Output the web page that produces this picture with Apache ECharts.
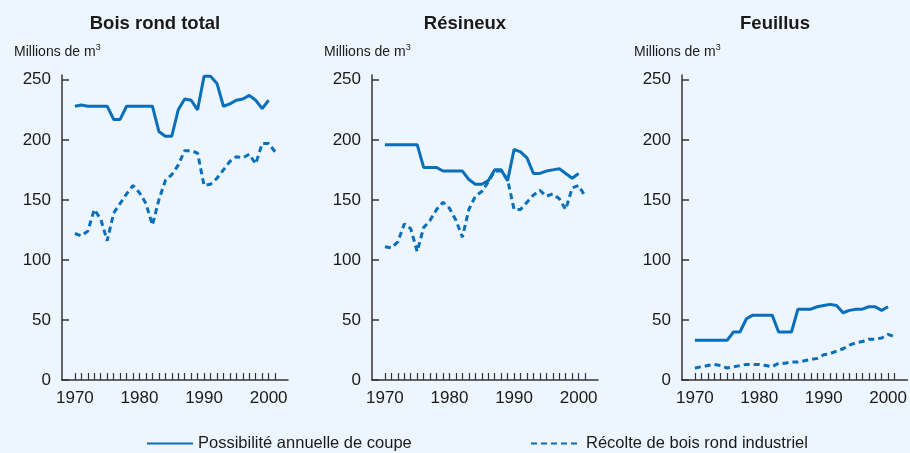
<!DOCTYPE html>
<html>
<head>
<meta charset="utf-8">
<title>Possibilité annuelle de coupe et récolte</title>
<script src="https://cdn.jsdelivr.net/npm/echarts@6.0.0/dist/echarts.min.js"></script>
<style>
    html, body { margin: 0; padding: 0; background: #edf5fe; }
    #chart { width: 910px; height: 453px; }
</style>
</head>
<body>
<div id="chart"></div>
<script>
// Data (millions de m3)
const years = [1970, 1971, 1972, 1973, 1974, 1975, 1976, 1977, 1978, 1979,
    1980, 1981, 1982, 1983, 1984, 1985, 1986, 1987, 1988, 1989,
    1990, 1991, 1992, 1993, 1994, 1995, 1996, 1997, 1998, 1999,
    2000, 2001];

const panelTitles = ['Bois rond total', 'Résineux', 'Feuillus'];
const seriesNames = ['Possibilité annuelle de coupe', 'Récolte de bois rond industriel'];

// Possibilité annuelle de coupe (1970-2000)
const coupeTotal = [228, 229, 228, 228, 228, 228, 217, 217, 228, 228,
    228, 228, 228, 207, 203, 203, 225, 234, 233, 225,
    253, 253, 247, 228, 230, 233, 234, 237, 233, 226,
    233];
const coupeResineux = [196, 196, 196, 196, 196, 196, 177, 177, 177, 174,
    174, 174, 174, 167, 163, 163, 166, 175, 175, 166,
    192, 190, 185, 172, 172, 174, 175, 176, 172, 168,
    172];
const coupeFeuillus = [33, 33, 33, 33, 33, 33, 40, 40, 51, 54,
    54, 54, 54, 40, 40, 40, 59, 59, 59, 61,
    62, 63, 62, 56, 58, 59, 59, 61, 61, 58,
    61];

// Récolte de bois rond industriel (1970-2001)
const recolteTotal = [122, 120, 124, 142, 134, 116, 139, 147, 155, 162,
    156, 147, 129, 150, 166, 171, 179, 191, 191, 189,
    162, 163, 168, 175, 182, 186, 185, 188, 180, 197,
    197, 190];
const recolteResineux = [111, 110, 115, 130, 126, 107, 127, 133, 142, 148,
    143, 133, 119, 142, 153, 157, 165, 174, 174, 167,
    142, 142, 148, 154, 158, 153, 155, 151, 142, 160,
    162, 153];
const recolteFeuillus = [10, 11, 12, 13, 12, 10, 11, 12, 13, 13,
    13, 12, 11, 14, 14, 15, 15, 16, 17, 18,
    21, 22, 24, 26, 29, 31, 32, 34, 34, 35,
    38, 36];

const xTickLabels = [1970, 1980, 1990, 2000];
const yTickLabels = [0, 50, 100, 150, 200, 250];

const coupeData = [coupeTotal, coupeResineux, coupeFeuillus];
const recolteData = [recolteTotal, recolteResineux, recolteFeuillus];

const FONT = "'Liberation Sans', Arial, sans-serif";
const BLUE = '#0a6fba';
const AXIS = '#333333';
const TEXT = '#1a1a1a';
const panelLeft = [62, 372, 682];

function pairs(values) {
    return values.map((v, i) => [years[i], v]);
}

const chart = echarts.init(document.getElementById('chart'));

const titles = [];
const grids = [];
const xAxes = [];
const yAxes = [];
const series = [];

panelLeft.forEach((left, i) => {
    titles.push({
        text: panelTitles[i],
        left: left + 88,
        top: 9,
        textAlign: 'center',
        textStyle: { fontFamily: FONT, fontSize: 18.5, fontWeight: 'bold', color: TEXT }
    });
    // unit label with a raised small 3
    titles.push({
        text: 'Millions de m{sup|3}',
        left: left - 53,
        top: 38,
        textStyle: {
            fontFamily: FONT,
            fontSize: 14,
            fontWeight: 'normal',
            color: TEXT,
            lineHeight: 18,
            rich: {
                sup: { fontFamily: FONT, fontSize: 9, color: TEXT, verticalAlign: 'top', lineHeight: 18 }
            }
        }
    });

    grids.push({ left: left, top: 75, width: 226, height: 305 });

    xAxes.push({
        type: 'value',
        gridIndex: i,
        min: 1968,
        max: 2003,
        axisLine: { show: true, lineStyle: { color: AXIS, width: 1.5 } },
        axisTick: {
            show: true,
            inside: true,
            length: 7,
            customValues: years,
            lineStyle: { color: AXIS, width: 1.2 }
        },
        axisLabel: {
            customValues: xTickLabels,
            formatter: v => String(v),
            margin: 10,
            fontFamily: FONT,
            fontSize: 17,
            color: TEXT
        },
        splitLine: { show: false }
    });

    yAxes.push({
        type: 'value',
        gridIndex: i,
        min: 0,
        max: 254,
        axisLine: { show: true, lineStyle: { color: AXIS, width: 1.5 } },
        axisTick: {
            show: true,
            inside: true,
            length: 7,
            customValues: yTickLabels,
            lineStyle: { color: AXIS, width: 1.5 }
        },
        axisLabel: {
            customValues: yTickLabels,
            margin: 11,
            fontFamily: FONT,
            fontSize: 17,
            color: TEXT
        },
        splitLine: { show: false }
    });

    series.push({
        name: seriesNames[0],
        type: 'line',
        xAxisIndex: i,
        yAxisIndex: i,
        data: pairs(coupeData[i]),
        symbol: 'none',
        lineStyle: { color: BLUE, width: 3 },
        itemStyle: { color: BLUE }
    });
    series.push({
        name: seriesNames[1],
        type: 'line',
        xAxisIndex: i,
        yAxisIndex: i,
        data: pairs(recolteData[i]),
        symbol: 'none',
        lineStyle: { color: BLUE, width: 3, type: [6, 4] },
        itemStyle: { color: BLUE }
    });
});

const legendText = { fontFamily: FONT, fontSize: 16.5, color: TEXT };

const option = {
    backgroundColor: '#edf5fe',
    animation: false,
    title: titles,
    grid: grids,
    xAxis: xAxes,
    yAxis: yAxes,
    legend: [
        {
            data: [seriesNames[0]],
            left: 141,
            top: 430,
            itemWidth: 46,
            itemHeight: 14,
            itemGap: 0,
            selectedMode: false,
            itemStyle: { opacity: 0 },
            textStyle: legendText
        },
        {
            data: [seriesNames[1]],
            left: 525,
            top: 430,
            itemWidth: 50,
            itemHeight: 14,
            itemGap: 0,
            selectedMode: false,
            itemStyle: { opacity: 0 },
            lineStyle: { type: [6, 4] },
            textStyle: legendText
        }
    ],
    series: series
};

chart.setOption(option);

window.addEventListener('resize', function() {
    chart.resize();
});
</script>
</body>
</html>
